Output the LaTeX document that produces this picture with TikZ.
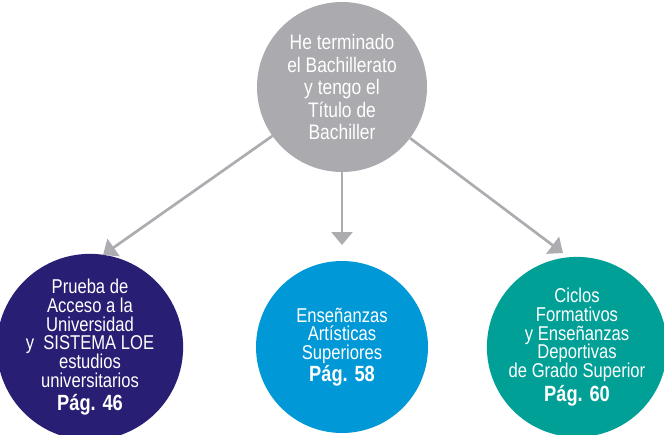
\documentclass[tikz,border=0pt]{standalone}
\usepackage{fontspec}
\setmainfont{Liberation Sans}[FakeStretch=0.83]
\usepackage{tikz}
\usetikzlibrary{arrows.meta}

\definecolor{grisflecha}{RGB}{172,172,177}
\definecolor{grisbola}{RGB}{170,170,175}
\definecolor{azuloscuro}{RGB}{40,30,115}
\definecolor{azulclaro}{RGB}{0,152,214}
\definecolor{verdeazul}{RGB}{0,160,150}
\setlength{\lineskiplimit}{-50pt}

\begin{document}
\begin{tikzpicture}[x = 1pt, y = -1pt,
            bola/.style = {circle, inner sep = 0pt, minimum size = 172pt, text = white, align = center, font = \fontsize{20}{18.7}\selectfont},
            flecha/.style = {line width = 2.7pt, draw = grisflecha, -{Triangle[width = 21pt, length = 13pt]}}]
            \useasboundingbox (0,0) rectangle (664,434);

            \node[bola, fill = grisbola, minimum size = 170pt, font = \fontsize{21}{22.5}\selectfont] (origen) at (342,87)
            {He terminado\\el Bachillerato\\y tengo el\\Título de\\Bachiller};

            \node[bola, fill = azuloscuro] (universidad) at (90,347)
            {Prueba de\\Acceso a la\\Universidad\\y\ \ SISTEMA LOE\\estudios\\universitarios\\[4pt]{\bfseries\fontsize{22}{22}\selectfont Pág. 46}};
            \node[bola, fill = azulclaro] (artisticas) at (342,347)
            {Enseñanzas\\Artísticas\\Superiores\\[3pt]{\bfseries\fontsize{22}{22}\selectfont Pág. 58}};
            \node[bola, fill = verdeazul] (ciclos) at (577,347)
            {Ciclos\\Formativos\\y Enseñanzas\\Deportivas\\de Grado Superior\\[5pt]{\bfseries\fontsize{22}{22}\selectfont Pág. 60}};

            \coordinate (puntaI) at (103,255);
            \coordinate (puntaC) at (342,245);
            \coordinate (puntaD) at (563,253);

            \draw[flecha] (origen) -- (puntaI);
            \draw[flecha] (origen) -- (puntaC);
            \draw[flecha] (origen) -- (puntaD);
        \end{tikzpicture}
\end{document}
